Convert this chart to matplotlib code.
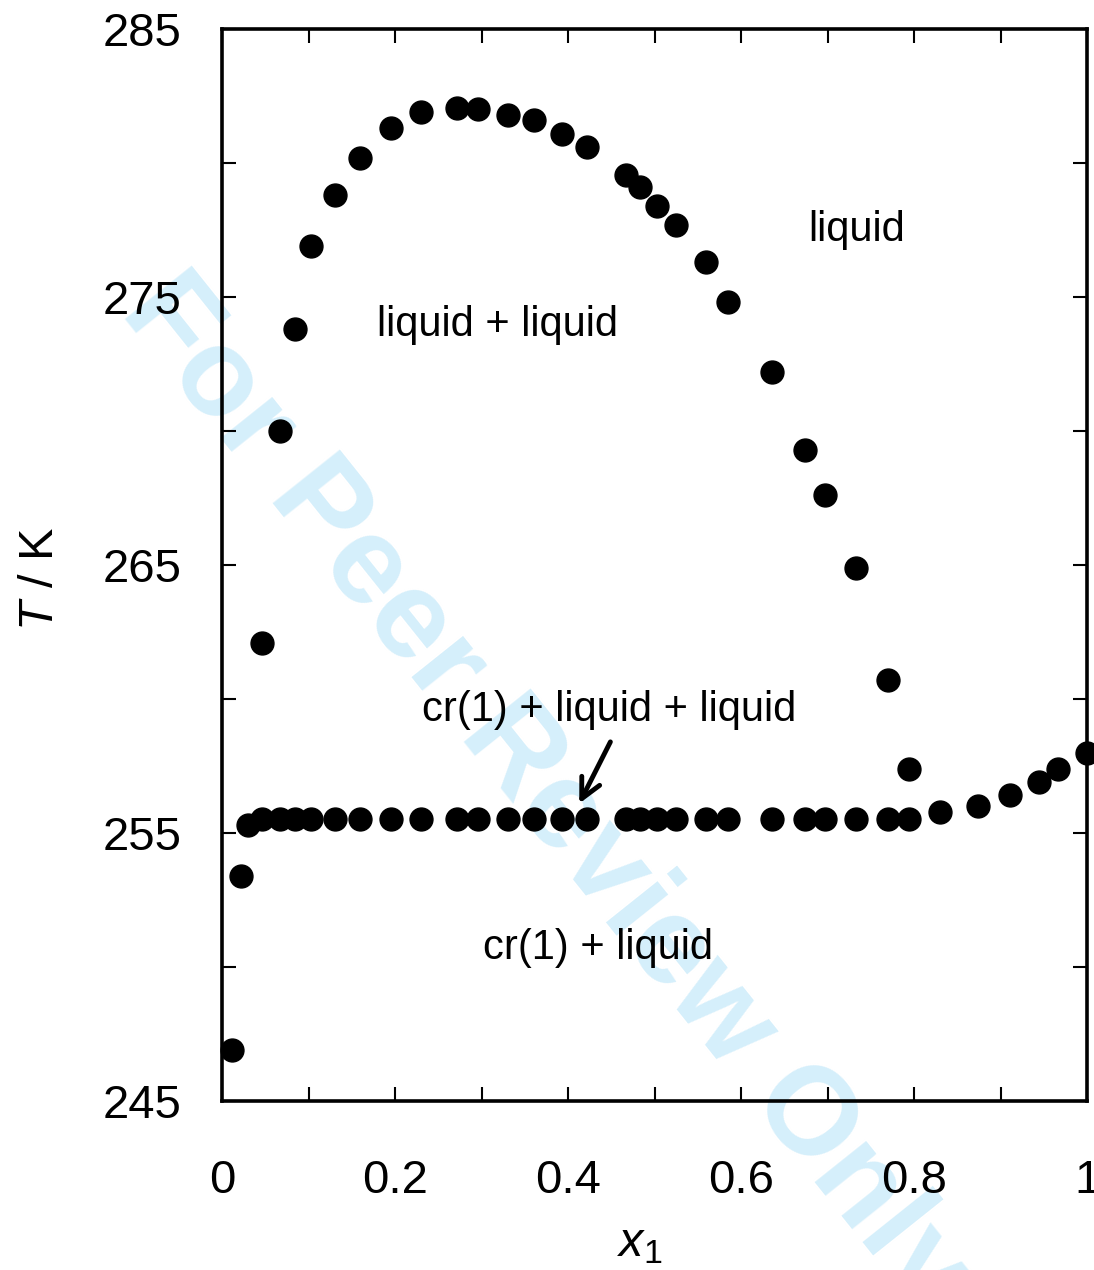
import matplotlib
matplotlib.use("Agg")
import matplotlib.pyplot as plt
from matplotlib.ticker import MultipleLocator

plt.rcParams['font.family'] = ['Liberation Sans', 'DejaVu Sans']
plt.rcParams['mathtext.fontset'] = 'custom'
plt.rcParams['mathtext.rm'] = 'Liberation Sans'
plt.rcParams['mathtext.it'] = 'Liberation Sans:italic'

# solid + liquid points near x1 = 0
x_sle_left = [0.012, 0.022, 0.030]
T_sle_left = [246.9, 253.4, 255.3]

# liquid-liquid coexistence curve
x_lle = [0.046, 0.067, 0.084, 0.103, 0.131, 0.160, 0.195, 0.230, 0.272, 0.296,
         0.331, 0.361, 0.393, 0.422, 0.467, 0.483, 0.503, 0.525, 0.560, 0.585,
         0.636, 0.674, 0.697, 0.733, 0.770, 0.794]
T_lle = [262.1, 270.0, 273.8, 276.9, 278.8, 280.2, 281.3, 281.9, 282.05, 282.0,
         281.8, 281.6, 281.1, 280.6, 279.55, 279.1, 278.4, 277.7, 276.3, 274.8,
         272.2, 269.3, 267.6, 264.9, 260.7, 257.4]

# cr(1) + liquid + liquid (monotectic) line
x_mono = x_lle
T_mono = [255.52] * len(x_lle)

# solid + liquid points towards x1 = 1
x_sle_right = [0.830, 0.874, 0.911, 0.945, 0.966, 1.0]
T_sle_right = [255.8, 256.0, 256.4, 256.9, 257.4, 258.0]

x_ticks = [0, 0.2, 0.4, 0.6, 0.8, 1.0]
x_ticklabels = ['0', '0.2', '0.4', '0.6', '0.8', '1']
T_ticks = [245, 255, 265, 275, 285]

fig = plt.figure(figsize=(10.94, 12.70), dpi=100)
ax = fig.add_axes([222 / 1094, 1 - 1101 / 1270, 865 / 1094, 1072 / 1270])

ms = 16.5
for xs, ts in [(x_sle_left, T_sle_left), (x_lle, T_lle), (x_mono, T_mono), (x_sle_right, T_sle_right)]:
    ax.plot(xs, ts, 'o', color='black', ms=ms, ls='none', clip_on=False, zorder=3)

ax.set_xlim(0, 1)
ax.set_ylim(245, 285)
ax.set_xticks(x_ticks)
ax.set_xticklabels(x_ticklabels)
ax.xaxis.set_minor_locator(MultipleLocator(0.1))
ax.set_yticks(T_ticks)
ax.yaxis.set_minor_locator(MultipleLocator(5))
ax.tick_params(which='both', direction='in', top=True, right=True, length=10, width=1.5)
ax.tick_params(axis='x', which='major', pad=42, labelsize=34)
ax.tick_params(axis='y', which='major', pad=29, labelsize=34)
for s in ax.spines.values():
    s.set_linewidth(2.6)

ax.set_xlabel('$x_1$', fontsize=35)
ax.xaxis.set_label_coords(0.483, -0.112)
ax.set_ylabel('$T$ / K', fontsize=35)
ax.yaxis.set_label_coords(-0.184, 0.487)

ax.text(0.734, 277.5, 'liquid', fontsize=30, ha='center', va='center')
ax.text(0.318, 273.95, 'liquid + liquid', fontsize=30, ha='center', va='center')
ax.text(0.447, 259.6, 'cr(1) + liquid + liquid', fontsize=30, ha='center', va='center')
ax.text(0.435, 250.7, 'cr(1) + liquid', fontsize=30, ha='center', va='center')
ax.annotate('', xy=(0.413, 256.1), xytext=(0.449, 258.4),
            arrowprops=dict(arrowstyle='->', color='black', lw=3.5, mutation_scale=36,
                            shrinkA=0, shrinkB=0))

# review watermark
ax.text(119 / 1094, 1 - 312 / 1270, 'For Peer Review Only', transform=fig.transFigure,
        fontsize=90, fontweight='bold', color='#d5effb', rotation=-51.4,
        rotation_mode='anchor', ha='left', va='baseline', clip_on=False, zorder=0)

fig.savefig('out.png', dpi=100)
